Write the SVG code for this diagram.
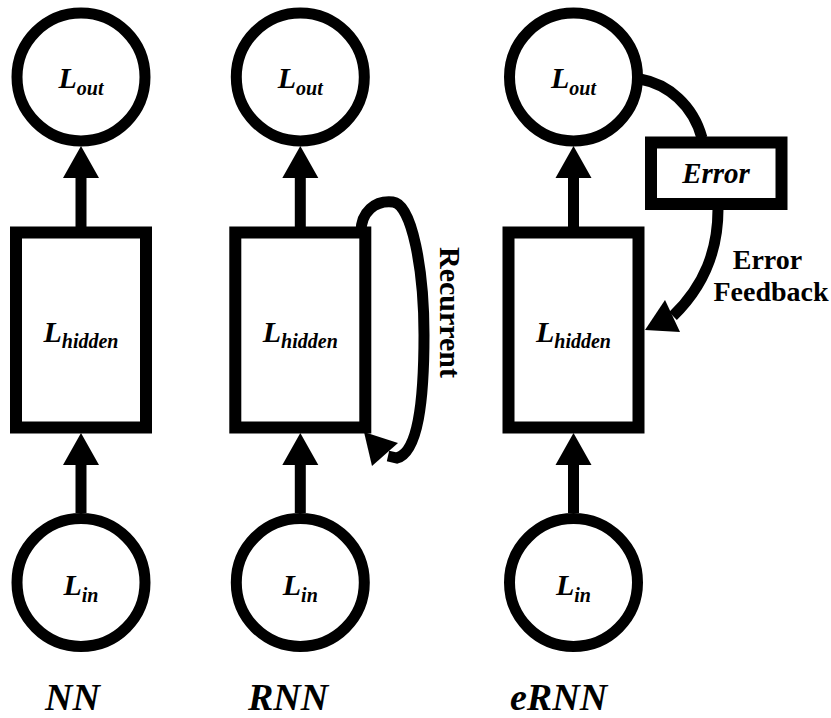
<svg xmlns="http://www.w3.org/2000/svg" width="831" height="718" viewBox="0 0 831 718">
  <style>
    .node { fill: #ffffff; stroke: #000000; }
    .circ { stroke-width: 11; }
    .box { stroke-width: 12; }
    .lbl { font-family: "Liberation Serif", "Times New Roman", serif; font-weight: bold; font-style: italic; fill: #000000; }
    .main { font-size: 30px; }
    .sub { font-size: 20px; }
    .title { font-family: "Liberation Serif", "Times New Roman", serif; font-weight: bold; font-style: italic; font-size: 38px; fill: #000000; }
    .note { font-family: "Liberation Serif", "Times New Roman", serif; font-weight: bold; fill: #000000; }
    .edge { fill: none; stroke: #000000; stroke-width: 11; }
    .head { fill: #000000; stroke: none; }
  </style>
  <defs>
    <marker id="arrow" markerUnits="userSpaceOnUse" markerWidth="34" markerHeight="40" viewBox="0 -20 34 40" refX="1" refY="0" orient="auto">
      <path d="M0,-18 L32,0 L0,18 Z" fill="#000000"/>
    </marker>
  </defs>

  <rect x="0" y="0" width="831" height="718" fill="#ffffff"/>

  <!-- connectors -->
  <g id="connectors">
    <!-- feed-forward arrows -->
    <path class="edge" d="M81 232 V177" marker-end="url(#arrow)"/>
    <path class="edge" d="M81 513 V464" marker-end="url(#arrow)"/>
    <path class="edge" d="M300.3 232 V177" marker-end="url(#arrow)"/>
    <path class="edge" d="M300.3 513 V464" marker-end="url(#arrow)"/>
    <path class="edge" d="M573.5 232 V177" marker-end="url(#arrow)"/>
    <path class="edge" d="M573.5 513 V464" marker-end="url(#arrow)"/>

    <!-- recurrent loop on the hidden layer -->
    <path class="edge" d="M361 232 C361 212, 375 200, 393 202 C412 204, 424 270, 424 335 C424 400, 418 452, 397 458 L388 456"/>
    <polygon class="head" points="364,432 372,466 398,443"/>

    <!-- output to error -->
    <path class="edge" d="M640 79 C668 84, 693 105, 702 138"/>

    <!-- error feedback into the hidden layer -->
    <path class="edge" d="M718 209 C718 250, 705 285, 673 316"/>
    <polygon class="head" points="645,330 665,300 680,332"/>
  </g>

  <!-- NN column -->
  <g id="nn-out">
    <circle class="node circ" cx="81" cy="77" r="64"/>
    <text class="lbl main" x="81" y="88" text-anchor="middle">L<tspan class="sub" dy="7">out</tspan></text>
  </g>
  <g id="nn-hidden">
    <rect class="node box" x="16" y="232.5" width="130" height="195"/>
    <text class="lbl main" x="81" y="341.5" text-anchor="middle">L<tspan class="sub" dy="6">hidden</tspan></text>
  </g>
  <g id="nn-in">
    <circle class="node circ" cx="81" cy="582.5" r="64"/>
    <text class="lbl main" x="81" y="595" text-anchor="middle">L<tspan class="sub" dy="6.5">in</tspan></text>
  </g>

  <!-- RNN column -->
  <g id="rnn-out">
    <circle class="node circ" cx="300.3" cy="77" r="64"/>
    <text class="lbl main" x="300.3" y="88" text-anchor="middle">L<tspan class="sub" dy="7">out</tspan></text>
  </g>
  <g id="rnn-hidden">
    <rect class="node box" x="235.3" y="232.5" width="130" height="195"/>
    <text class="lbl main" x="300.3" y="341.5" text-anchor="middle">L<tspan class="sub" dy="6">hidden</tspan></text>
  </g>
  <g id="rnn-in">
    <circle class="node circ" cx="300.3" cy="582.5" r="64"/>
    <text class="lbl main" x="300.3" y="595" text-anchor="middle">L<tspan class="sub" dy="6.5">in</tspan></text>
  </g>

  <!-- eRNN column -->
  <g id="ernn-out">
    <circle class="node circ" cx="573.5" cy="77" r="64"/>
    <text class="lbl main" x="573.5" y="88" text-anchor="middle">L<tspan class="sub" dy="7">out</tspan></text>
  </g>
  <g id="ernn-hidden">
    <rect class="node box" x="508.5" y="232.5" width="130" height="195"/>
    <text class="lbl main" x="573.5" y="341.5" text-anchor="middle">L<tspan class="sub" dy="6">hidden</tspan></text>
  </g>
  <g id="ernn-in">
    <circle class="node circ" cx="573.5" cy="582.5" r="64"/>
    <text class="lbl main" x="573.5" y="595" text-anchor="middle">L<tspan class="sub" dy="6.5">in</tspan></text>
  </g>
  <g id="error">
    <rect class="node box" x="651" y="142.5" width="130.5" height="61.5"/>
    <text class="lbl" x="716" y="183" text-anchor="middle" font-size="29">Error</text>
  </g>

  <!-- edge notes -->
  <text class="note" font-size="30" text-anchor="middle" transform="translate(440 312.5) rotate(90)">Recurrent</text>
  <text class="note" font-size="28" x="767.5" y="269" text-anchor="middle">Error</text>
  <text class="note" font-size="28" x="771" y="300.5" text-anchor="middle">Feedback</text>

  <!-- column titles -->
  <text class="title" x="45" y="710">NN</text>
  <text class="title" x="248" y="710">RNN</text>
  <text class="title" x="510" y="710">eRNN</text>
</svg>
